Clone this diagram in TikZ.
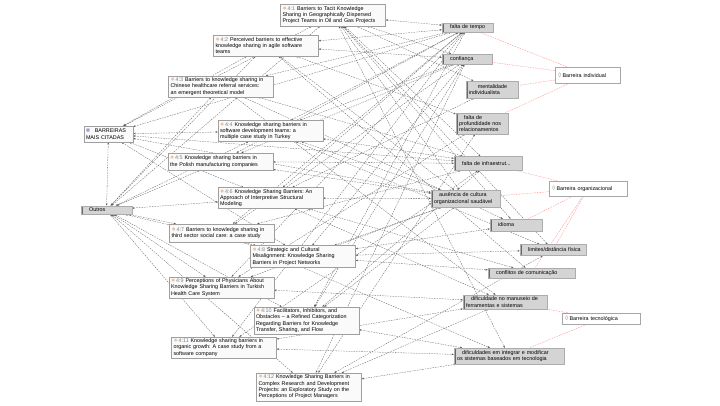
\documentclass[tikz,border=0pt]{standalone}
\usepackage{fontspec}
\setmainfont{Liberation Sans}
\usetikzlibrary{arrows.meta,shadows,backgrounds}
\definecolor{docic}{RGB}{232,196,170}
\definecolor{codeic}{RGB}{196,226,196}
\definecolor{codefill}{RGB}{212,212,212}
\definecolor{barcol}{RGB}{105,105,105}
\newcommand\dicon{{\fontsize{7}{6}\selectfont\color{docic}●}\hspace{1pt}}
\newcommand\cicon{{\fontsize{6.5}{6}\selectfont\color{codeic}●}\hspace{1.3pt}}
\newcommand\gicon{{\fontsize{6.5}{6}\selectfont\color{codeic!70!black}◊}\hspace{1.3pt}}
\newcommand\micon{{\fontsize{6.5}{6}\selectfont\color{blue!30!gray!60}■}\hspace{1.3pt}}
\newcommand\dnum[1]{\textcolor{gray}{#1}\ }
\frenchspacing
\begin{document}
\begin{tikzpicture}[x=1pt,y=-1pt,
  every node/.style={font=\fontsize{5.4}{6.3}\selectfont},
  doc/.style={draw=gray!75, fill=gray!4, inner xsep=2pt, inner ysep=1pt,
    text width=101pt, align=left, minimum width=105pt,
    drop shadow={shadow xshift=0.7pt, shadow yshift=-0.7pt, opacity=0.25}},
  code/.style={draw=gray!65, fill=codefill, inner xsep=3pt, inner ysep=0.8pt, align=left,
    path picture={\fill[barcol] (path picture bounding box.north west) rectangle ([xshift=2.4pt]path picture bounding box.south west);}},
  cw/.style 2 args={minimum width=#1pt, text width=#2pt},
  cat/.style={draw=gray!70, fill=white, inner xsep=3pt, inner ysep=0.8pt, align=left,
    path picture={\fill[gray!70] (path picture bounding box.north west) rectangle ([yshift=-1.2pt]path picture bounding box.north east);}},
  lnk/.style={draw=black!65, line width=0.28pt, dash pattern=on 1.6pt off 1pt,
    {Stealth[length=2.3pt,width=1.7pt]}-{Stealth[length=2.3pt,width=1.7pt]}},
  rlnk/.style={draw=red!45, line width=0.35pt, dash pattern=on 1.6pt off 1pt}
]
\useasboundingbox (0,0) rectangle (720,405);

% documents
\node[doc, minimum height=22pt] (d1) at (333,15) {\dicon\dnum{4:1}Barriers to Tacit Knowledge\\Sharing in Geographically Dispersed\\Project Teams in Oil and Gas Projects};
\node[doc, minimum height=21pt] (d2) at (266,45.5) {\dicon\dnum{4:2}Perceived barriers to effective\\knowledge sharing in agile software\\teams};
\node[doc, minimum height=21pt] (d3) at (221,86.5) {\dicon\dnum{4:3}Barriers to knowledge sharing in\\Chinese healthcare referral services:\\an emergent theoretical model};
\node[doc, minimum height=21pt] (d4) at (270.5,131) {\dicon\dnum{4:4}Knowledge sharing barriers in\\software development teams: a\\multiple case study in Turkey};
\node[doc, minimum height=17pt] (d5) at (220.5,161.5) {\dicon\dnum{4:5}Knowledge sharing barriers in\\the Polish manufacturing companies};
\node[doc, minimum height=21pt] (d6) at (270.5,198) {\dicon\dnum{4:6}Knowledge Sharing Barriers: An\\Approach of Interpretive Structural\\Modeling};
\node[doc, minimum height=18pt] (d7) at (222,233) {\dicon\dnum{4:7}Barriers to knowledge sharing in\\third sector social care: a case study};
\node[doc, minimum height=22pt] (d8) at (303,256.5) {\dicon\dnum{4:8}Strategic and Cultural\\Misalignment: Knowledge Sharing\\Barriers in Project Networks};
\node[doc, minimum height=21pt] (d9) at (221.5,287.5) {\dicon\dnum{4:9}Perceptions of Physicians About\\Knowledge Sharing Barriers in Turkish\\Health Care System};
\node[doc, minimum height=27pt] (d10) at (306.5,320.5) {\dicon\dnum{4:10}Facilitators, Inhibitors, and\\Obstacles – a Refined Categorization\\Regarding Barriers for Knowledge\\Transfer, Sharing, and Flow};
\node[doc, minimum height=21pt] (d11) at (224,347.5) {\dicon\dnum{4:11}Knowledge sharing barriers in\\organic growth: A case study from a\\software company};
\node[doc, minimum height=28pt] (d12) at (309,387) {\dicon\dnum{4:12}Knowledge Sharing Barriers in\\Complex Research and Development\\Projects: an Exploratory Study on the\\Perceptions of Project Managers};

% memo and Outros
\node[doc, text width=45pt, minimum width=49pt, minimum height=16pt] (bmc) at (108.5,134) {\micon\ \ BARREIRAS\\MAIS CITADAS};
\node[code, cw={51}{45}, minimum height=8.5pt] (out) at (106.5,210) {\cicon Outros};

% codes
\node[code, cw={51}{45}, minimum height=9.5pt] (c1) at (467.5,27.5) {\cicon falta de tempo};
\node[code, cw={50}{44}, minimum height=10pt] (c2) at (467,59) {\cicon confiança};
\node[code, cw={52}{46}, minimum height=17pt] (c3) at (492,89.5) {\cicon\ \ mentalidade\\individualista};
\node[code, cw={52}{46}, minimum height=21pt] (c4) at (482,123.5) {\cicon falta de\\profundidade nos\\relacionamentos};
\node[code, cw={68}{62}, minimum height=14pt] (c5) at (488,163.5) {\cicon falta de infraestrut...};
\node[code, cw={69}{63}, minimum height=17pt] (c6) at (465.5,198.5) {\cicon ausência de cultura\\organizacional saudável};
\node[code, cw={52}{46}, minimum height=12pt] (c7) at (516,225) {\cicon idioma};
\node[code, cw={66}{60}, minimum height=11pt] (c8) at (553,250) {\cicon limites/distância física};
\node[code, cw={87}{81}, minimum height=10pt] (c9) at (531.5,273) {\cicon conflitos de comunicação};
\node[code, cw={84}{78}, minimum height=14pt] (c10) at (505,302) {\cicon dificuldade no manuseio de\\ferramentas e sistemas};
\node[code, cw={110}{104}, minimum height=16pt] (c11) at (509,356) {\cicon dificuldades em integrar e modificar\\os sistemas baseados em tecnologia};

% categories
\node[cat, cw={65}{59}, minimum height=16pt] (g1) at (587.5,75) {\gicon Barreira individual};
\node[cat, cw={78}{72}, minimum height=15pt] (g2) at (588,188.5) {\gicon Barreira organizacional};
\node[cat, cw={78}{72}, minimum height=11pt] (g3) at (601,318.5) {\gicon Barreira tecnológica};

\begin{scope}[on background layer]
\fill[white] (0,0) rectangle (720,405);
\foreach \a/\b in {d1/c1, d1/c2, d1/c3, d1/c5, d1/c6, d1/c7, d1/c8, d1/c11,
  d2/c1, d2/c2, d2/c4, d2/c6, d2/c9,
  d3/c1, d3/c5, d3/c7, d3/c10,
  d4/c1, d4/c2, d4/c5, d4/c6, d4/c8,
  d5/c1, d5/c2, d5/c5, d5/c6,
  d6/c1, d6/c3, d6/c6, d6/c9, d6/c10,
  d7/c1, d7/c2, d7/c5, d7/c11,
  d8/c2, d8/c6, d8/c7, d8/c8, d8/c9,
  d9/c1, d9/c4, d9/c6, d9/c10,
  d10/c1, d10/c2, d10/c5, d10/c6, d10/c11,
  d11/c1, d11/c5, d11/c10, d11/c11,
  d12/c2, d12/c4, d12/c8, d12/c10, d12/c11,
  out/d1, out/d2, out/d3, out/d4, out/d5, out/d6, out/d7, out/d8, out/d9, out/d10, out/d11, out/d12,
  bmc/d1, bmc/d2, bmc/d4, bmc/d6, bmc/d8, bmc/c1, bmc/c5, bmc/c6, bmc/out}
  {\draw[lnk] (\a) -- (\b);}
\foreach \a/\b in {g1/c1, g1/c2, g1/c3, g1/c4, g2/c5, g2/c6, g2/c7, g2/c8, g2/c9, g3/c10, g3/c11}
  {\draw[rlnk] (\a) -- (\b);}
\end{scope}
\end{tikzpicture}
\end{document}
